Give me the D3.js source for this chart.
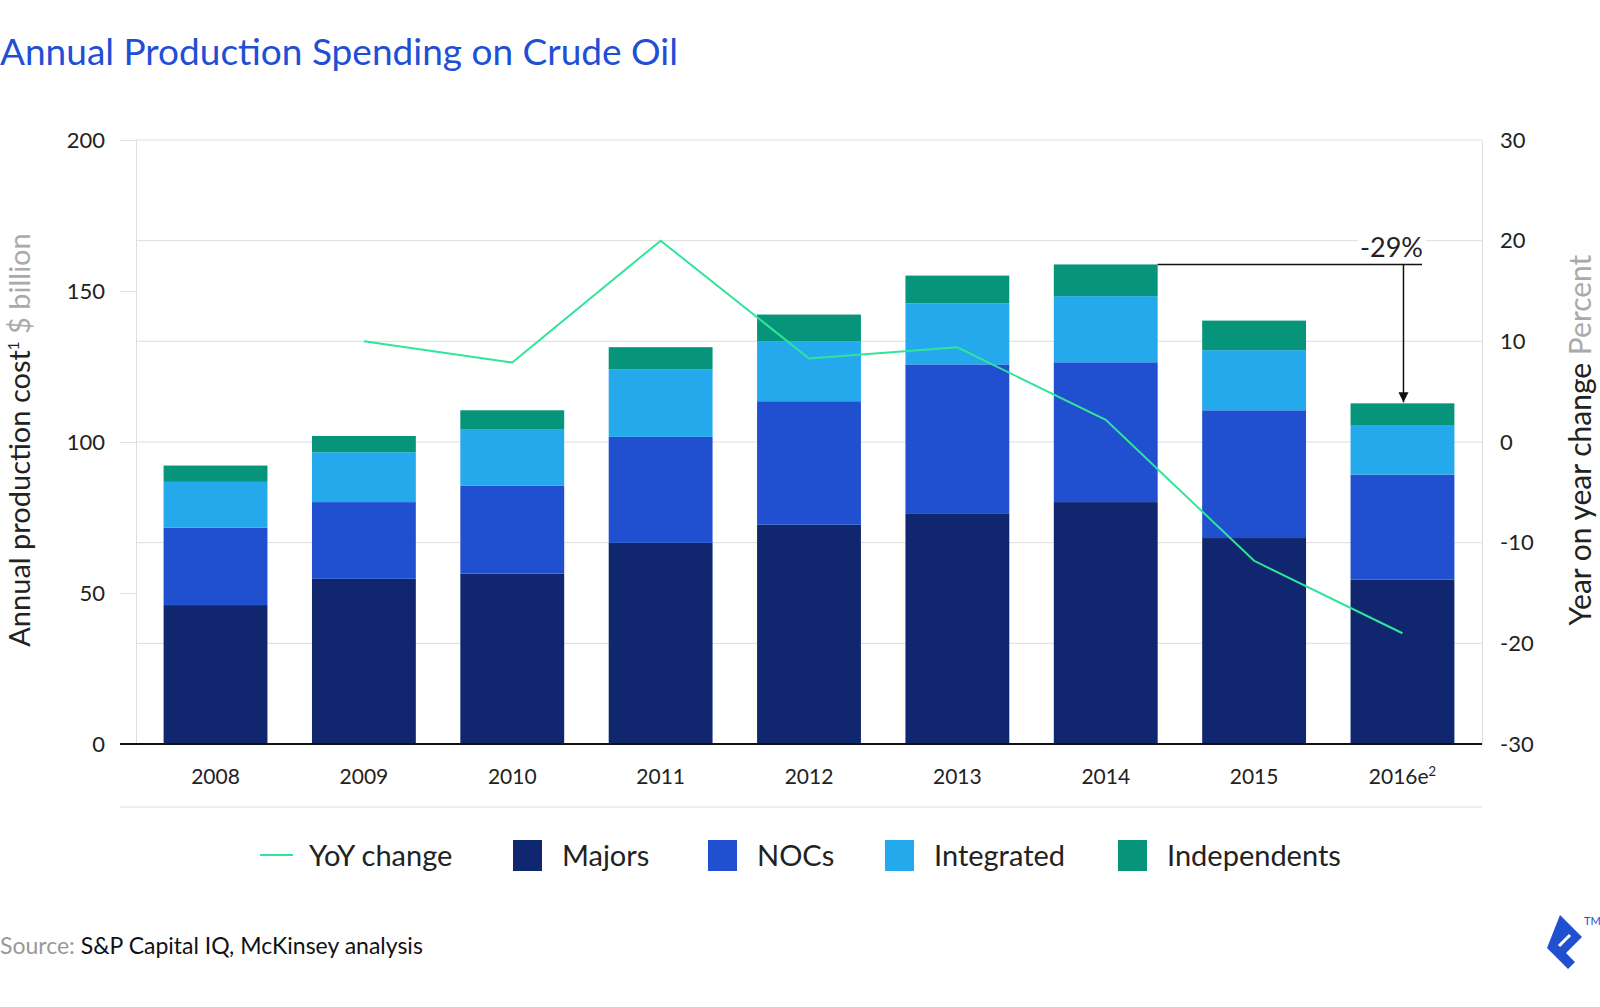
<!DOCTYPE html>
<html>
<head>
<meta charset="utf-8">
<script src="https://cdn.jsdelivr.net/npm/d3@7"></script>
<style>
  body { margin: 0; background: #fff; }
  svg { display: block; font-family: Lato, "Open Sans", sans-serif; }
</style>
</head>
<body>
<svg id="chart" width="1600" height="1007"></svg>
<script>
var years = ['2008', '2009', '2010', '2011', '2012', '2013', '2014', '2015', '2016e'];
var majors = [46, 54.7, 56.4, 66.6, 72.6, 76.4, 80.1, 68.2, 54.4];
var nocs = [25.6, 25.4, 29.1, 35.1, 40.9, 49.3, 46.3, 42.3, 34.8];
var integrated = [15.2, 16.5, 18.6, 22.3, 19.9, 20.2, 21.9, 19.9, 16.2];
var independents = [5.4, 5.4, 6.4, 7.4, 8.8, 9.2, 10.5, 9.8, 7.4];
var yoy = [null, 10, 7.9, 20, 8.3, 9.4, 2.2, -11.8, -19];
var seriesNames = ['Majors', 'NOCs', 'Integrated', 'Independents'];
var leftTicks = [0, 50, 100, 150, 200];
var rightTicks = [-30, -20, -10, 0, 10, 20, 30];

var colors = { Majors: '#10266e', NOCs: '#2050cf', Integrated: '#24a9ec', Independents: '#06957a' };
var lineColor = '#2fe59a';

var svg = d3.select('#chart');

var table = years.map(function (y, i) {
  return { year: y, Majors: majors[i], NOCs: nocs[i], Integrated: integrated[i], Independents: independents[i], yoy: yoy[i] };
});

var x = d3.scaleBand()
  .domain(years)
  .range([136, 1482])
  .paddingInner(0.3)
  .paddingOuter(0.186);
var y = d3.scaleLinear().domain([0, 200]).range([744, 140]);
var y2 = d3.scaleLinear().domain([-30, 30]).range([744, 140]);

// title
svg.append('text')
  .attr('x', 0).attr('y', 65)
  .attr('font-size', 37)
  .attr('fill', '#1f4fd6')
  .text('Annual Production Spending on Crude Oil');

// gridlines (right axis ticks)
svg.append('g').selectAll('line')
  .data(rightTicks)
  .enter().append('line')
  .attr('x1', 136).attr('x2', 1482)
  .attr('y1', function (d) { return y2(d); })
  .attr('y2', function (d) { return y2(d); })
  .attr('stroke', '#dedede');

// left axis with ticks extending left
var leftAxis = svg.append('g')
  .attr('transform', 'translate(136,0)')
  .call(d3.axisLeft(y).tickValues(leftTicks).tickSize(16).tickPadding(15));
leftAxis.select('.domain').attr('stroke', '#dedede');
leftAxis.selectAll('.tick line').attr('stroke', '#dedede');
leftAxis.selectAll('.tick text')
  .attr('font-size', 22).attr('fill', '#222')
  .attr('font-family', 'Lato, sans-serif');

var rightAxis = svg.append('g')
  .attr('transform', 'translate(1482,0)')
  .call(d3.axisRight(y2).tickValues(rightTicks).tickSize(0).tickPadding(18)
    .tickFormat(function (d) { return String(d); }));
rightAxis.select('.domain').attr('stroke', '#dedede');
rightAxis.selectAll('.tick text')
  .attr('font-size', 22).attr('fill', '#222')
  .attr('font-family', 'Lato, sans-serif');

// stacked bars
var stack = d3.stack().keys(seriesNames)(table);
svg.append('g').selectAll('g')
  .data(stack)
  .enter().append('g')
  .attr('fill', function (d) { return colors[d.key]; })
  .selectAll('rect')
  .data(function (d) { return d; })
  .enter().append('rect')
  .attr('x', function (d) { return x(d.data.year); })
  .attr('width', x.bandwidth())
  .attr('y', function (d) { return y(d[1]); })
  .attr('height', function (d) { return y(d[0]) - y(d[1]); });

// baseline
svg.append('line')
  .attr('x1', 120).attr('x2', 1482)
  .attr('y1', y(0)).attr('y2', y(0))
  .attr('stroke', '#111').attr('stroke-width', 2);

// x axis labels
var xAxis = svg.append('g')
  .attr('transform', 'translate(0,' + y(0) + ')')
  .call(d3.axisBottom(x).tickSize(0).tickPadding(25));
xAxis.select('.domain').remove();
xAxis.selectAll('.tick text')
  .attr('font-size', 21).attr('fill', '#222')
  .attr('font-family', 'Lato, sans-serif');
xAxis.selectAll('.tick text')
  .filter(function (d) { return d === '2016e'; })
  .append('tspan')
  .attr('font-size', 13).attr('dy', -8)
  .text('2');

svg.append('line')
  .attr('x1', 120).attr('x2', 1482)
  .attr('y1', 807).attr('y2', 807)
  .attr('stroke', '#dedede');

// YoY line
var line = d3.line()
  .defined(function (d) { return d.yoy !== null; })
  .x(function (d) { return x(d.year) + x.bandwidth() / 2; })
  .y(function (d) { return y2(d.yoy); });
svg.append('path')
  .datum(table)
  .attr('d', line)
  .attr('fill', 'none')
  .attr('stroke', lineColor)
  .attr('stroke-width', 2);

// -29% annotation
var top2014 = y(d3.sum(seriesNames, function (k) { return table[6][k]; }));
var top2016 = y(d3.sum(seriesNames, function (k) { return table[8][k]; }));
var arrowX = x('2016e') + x.bandwidth() / 2 + 1;
svg.append('defs').append('marker')
  .attr('id', 'arrow')
  .attr('viewBox', '0 0 10 10')
  .attr('refX', 10).attr('refY', 5)
  .attr('markerWidth', 10).attr('markerHeight', 12)
  .attr('markerUnits', 'userSpaceOnUse')
  .attr('orient', 'auto')
  .append('path').attr('d', 'M0,0L10,5L0,10Z').attr('fill', '#111');
svg.append('line')
  .attr('x1', x('2014') + x.bandwidth()).attr('x2', 1422)
  .attr('y1', top2014).attr('y2', top2014)
  .attr('stroke', '#111').attr('stroke-width', 1.5);
svg.append('line')
  .attr('x1', arrowX).attr('x2', arrowX)
  .attr('y1', top2014).attr('y2', top2016 - 1)
  .attr('stroke', '#111').attr('stroke-width', 1.5)
  .attr('marker-end', 'url(#arrow)');
svg.append('rect')
  .attr('x', 1358).attr('y', 232).attr('width', 68).attr('height', 26)
  .attr('fill', '#fff');
svg.append('text')
  .attr('x', 1423).attr('y', 257)
  .attr('text-anchor', 'end')
  .attr('font-size', 27).attr('fill', '#222')
  .text('-29%');

// axis titles
var lt = svg.append('text')
  .attr('transform', 'translate(30,440) rotate(-90)')
  .attr('text-anchor', 'middle')
  .attr('font-size', 29).attr('fill', '#222');
lt.append('tspan').text('Annual production cost');
lt.append('tspan').attr('font-size', 15).attr('dy', -11).text('1');
lt.append('tspan').attr('dy', 11).attr('fill', '#aaa').text('  $ billion');

var rt = svg.append('text')
  .attr('transform', 'translate(1591,440) rotate(-90)')
  .attr('text-anchor', 'middle')
  .attr('font-size', 30).attr('fill', '#222');
rt.append('tspan').text('Year on year change');
rt.append('tspan').attr('fill', '#aaa').text('  Percent');

// legend
var legend = svg.append('g').attr('font-size', 29).attr('fill', '#222');
legend.append('line')
  .attr('x1', 260).attr('x2', 293).attr('y1', 855).attr('y2', 855)
  .attr('stroke', lineColor).attr('stroke-width', 2);
legend.append('text').attr('x', 309).attr('y', 866).text('YoY change');
var legendX = [513, 708, 885, 1118];
seriesNames.forEach(function (k, i) {
  legend.append('rect')
    .attr('x', legendX[i]).attr('y', 840)
    .attr('width', 29).attr('height', 31)
    .attr('fill', colors[k]);
  legend.append('text')
    .attr('x', legendX[i] + 49).attr('y', 866)
    .text(k);
});

// source
var src = svg.append('text')
  .attr('x', 0).attr('y', 954)
  .attr('font-size', 23);
src.append('tspan').attr('fill', '#999').text('Source: ');
src.append('tspan').attr('fill', '#111').text('S&P Capital IQ, McKinsey analysis');

// logo
svg.append('path')
  .attr('d', 'M1560,915 L1582,937 L1566,953 L1575,962 L1568,969 L1547,948 Z')
  .attr('fill', '#2050cf');
svg.append('line')
  .attr('x1', 1559).attr('y1', 946).attr('x2', 1570).attr('y2', 935)
  .attr('stroke', '#fff').attr('stroke-width', 3);
svg.append('text')
  .attr('x', 1584).attr('y', 925)
  .attr('font-size', 11).attr('fill', '#2050cf')
  .text('TM');
</script>
</body>
</html>
